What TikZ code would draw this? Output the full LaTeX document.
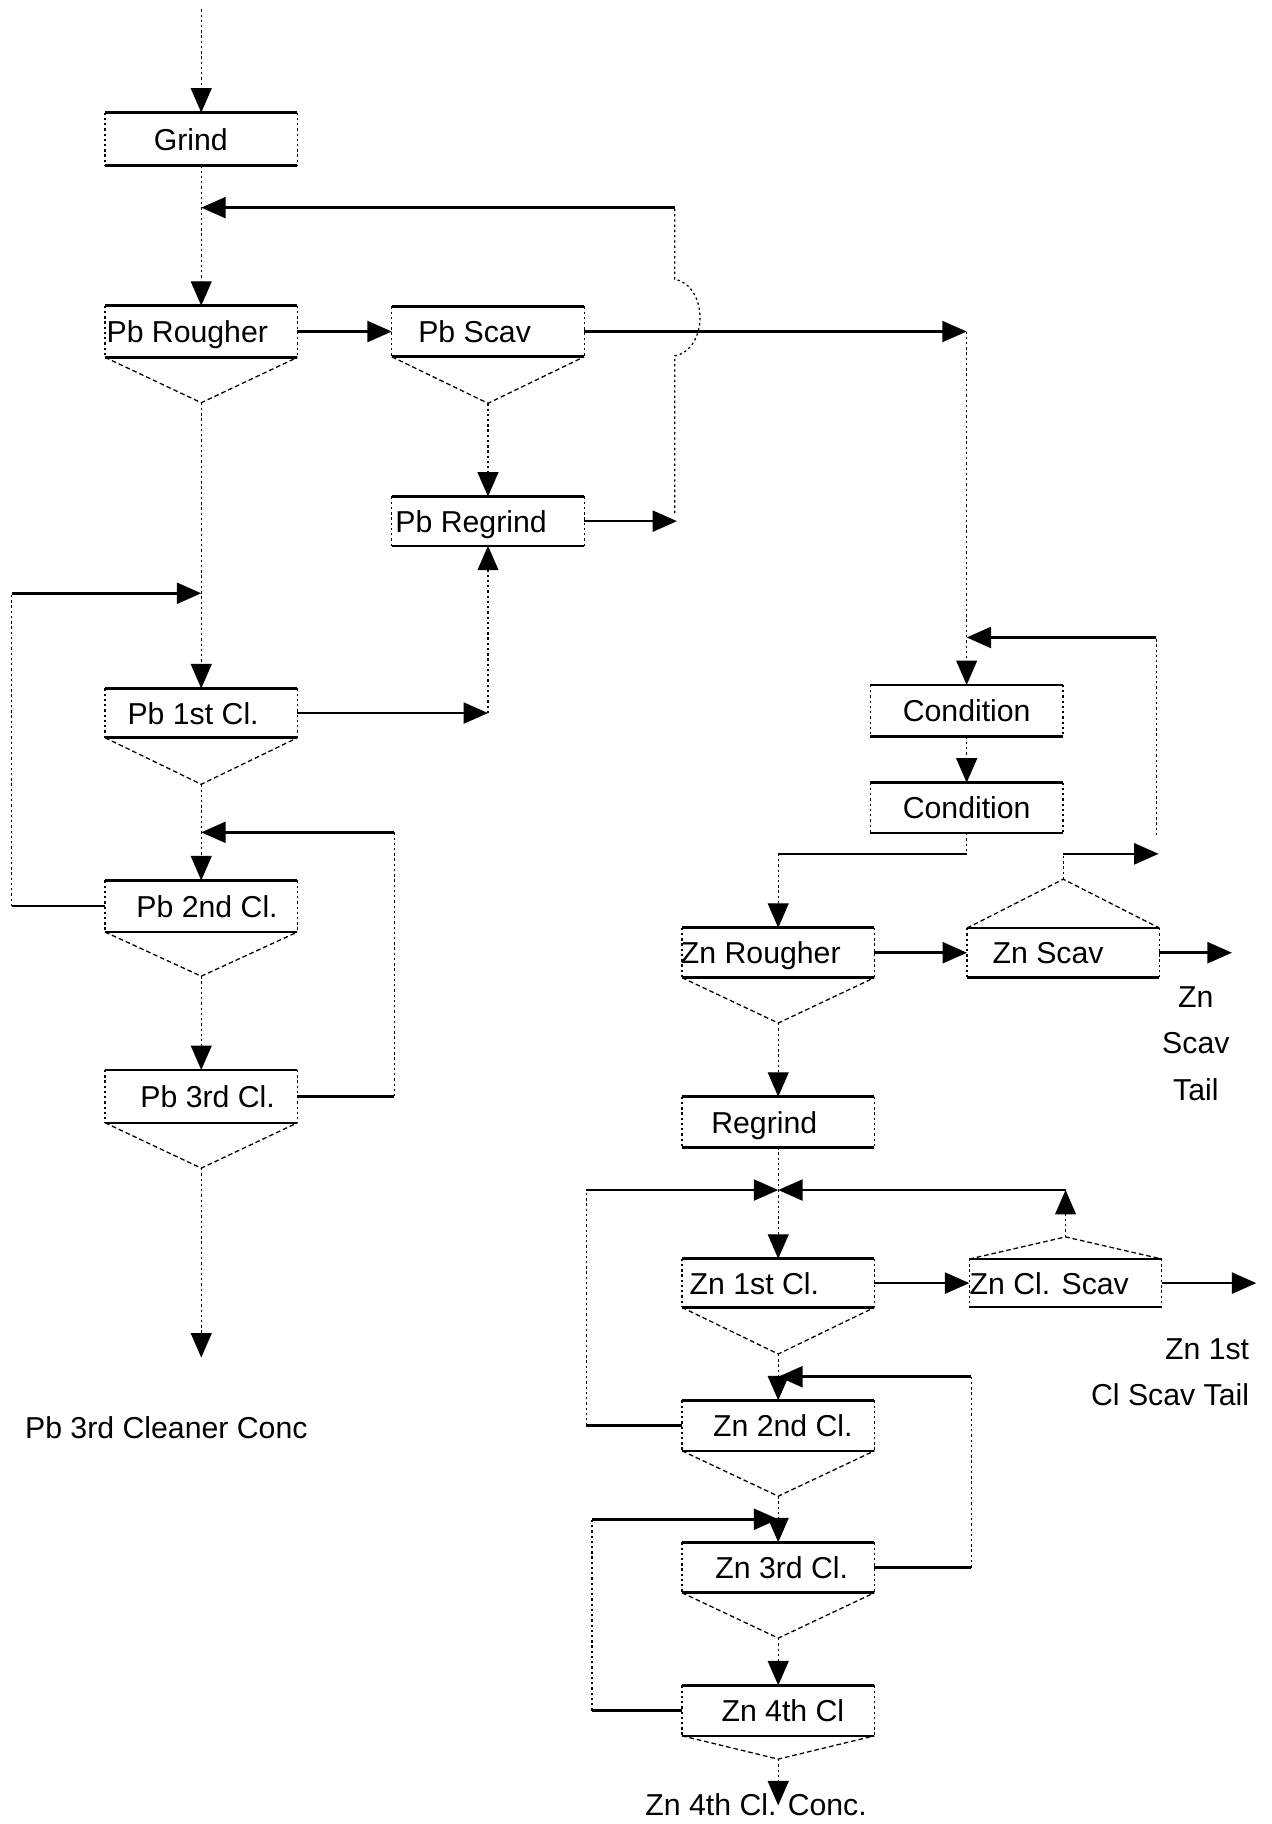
\documentclass[tikz,border=0pt]{standalone}
\usepackage{fontspec}
\setmainfont{Liberation Sans}
\usetikzlibrary{arrows.meta,calc}
\newcommand{\frameit}[1]{%
  \draw[hl] (#1.north west) -- (#1.north east) (#1.south west) -- (#1.south east);
  \draw[vl] (#1.north west) -- (#1.south west) (#1.north east) -- (#1.south east);}
\newcommand{\unitbox}[6]{% name, x, y, text shift, height, text
  \node[box, minimum height=#5pt] (#1) at (#2,#3) {};
  \node[boxtext, xshift=#4pt] (#1-t) at (#1.center) {#6};
  \frameit{#1}}
\newcommand{\hopperdown}[2]{% node, depth
  \draw[tri] (#1.south west) -- ($(#1.south)+(0,#2)$) coordinate (#1-a) -- (#1.south east);}
\newcommand{\hopperup}[2]{% node, height
  \draw[tri] (#1.north west) -- ($(#1.north)+(0,-#2)$) coordinate (#1-a) -- (#1.north east);}
\begin{document}
\begin{tikzpicture}[x=1pt,y=-1pt,
  box/.style={rectangle, draw=none, minimum width=165pt, inner sep=0pt},
  boxtext/.style={inner sep=0pt, text height=19pt, text depth=0pt, font=\fontsize{26}{30}\selectfont},
  lbl/.style={inner sep=0pt, text height=19pt, text depth=0pt, font=\fontsize{26}{30}\selectfont},
  hl/.style={line width=2.2pt},
  vl/.style={line width=1.1pt, dash pattern=on 2pt off 2.5pt},
  tri/.style={line width=1.1pt, dash pattern=on 4pt off 2.5pt},
  arr/.style={-{Triangle[length=21pt,width=18pt]}}
]
\useasboundingbox (0,0) rectangle (1093,1568);

% ---------- Pb circuit ----------
\coordinate (src) at (173,8);
\unitbox{grind}{173}{119.5}{-9}{45}{Grind}
\unitbox{pbr}{173}{285}{-12}{44}{Pb Rougher}
\hopperdown{pbr}{39}
\unitbox{pbs}{419.5}{285}{-11.5}{43}{Pb Scav}
\hopperdown{pbs}{40}
\unitbox{pbrg}{419.5}{448}{-14.5}{42}{Pb Regrind}
\unitbox{pb1}{173}{613}{-7}{42}{Pb 1st Cl.}
\hopperdown{pb1}{40}
\unitbox{pb2}{173}{779}{5}{44}{Pb 2nd Cl.}
\hopperdown{pb2}{38}
\unitbox{pb3}{173}{942.5}{5.5}{45}{Pb 3rd Cl.}
\hopperdown{pb3}{39}

\draw[vl,arr] (src) -- (grind.north);
\draw[vl,arr] (grind.south) -- (pbr.north);

\coordinate (rec) at (173,178.5);
\coordinate (rtop) at (580,178.5);
\coordinate (rbot) at (580,441);
\coordinate (rin) at (582,448);
\draw[vl] (rbot) -- (580,306) .. controls (609,300) and (609,246) .. (580,240) -- (rtop);
\draw[hl,arr] (rtop) -- (rec);
\draw[hl,arr] (pbrg.east) -- (rin);

\draw[hl,arr] (pbr.east) -- (pbs.west);
\coordinate (cin) at (831,285);
\draw[hl,arr] (pbs.east) -- (cin);
\draw[vl,arr] (pbs-a) -- (pbrg.north);
\draw[vl,arr] (pbr-a) -- (pb1.north);

\coordinate (j1) at (173,510);
\coordinate (pbl) at (10,779);
\coordinate (pbl2) at (10,510);
\draw[hl] (pb2.west) -- (pbl);
\draw[vl] (pbl) -- (pbl2);
\draw[hl,arr] (pbl2) -- (j1);

\coordinate (rgin) at (419.5,613);
\draw[hl,arr] (pb1.east) -- (rgin);
\draw[vl,arr] (rgin) -- (pbrg.south);

\draw[vl,arr] (pb1-a) -- (pb2.north);
\coordinate (j2) at (173,715.5);
\coordinate (pbr2) at (339,715.5);
\coordinate (pbr3) at (339,942.5);
\draw[hl] (pb3.east) -- (pbr3);
\draw[vl] (pbr3) -- (pbr2);
\draw[hl,arr] (pbr2) -- (j2);
\draw[vl,arr] (pb2-a) -- (pb3.north);

\coordinate (pbout) at (173,1167);
\draw[vl,arr] (pb3-a) -- (pbout);
\node[lbl] (pbc) at (143,1227) {Pb 3rd Cleaner Conc};

% ---------- Zn circuit ----------
\unitbox{c1}{831}{611}{0}{44}{Condition}
\unitbox{c2}{831}{694.5}{0}{43}{Condition}
\unitbox{znr}{669}{819}{-15}{42.5}{Zn Rougher}
\hopperdown{znr}{39}
\unitbox{zns}{914}{819}{-13}{42}{Zn Scav}
\hopperup{zns}{42}
\unitbox{rg}{669}{964.5}{-12}{43}{Regrind}
\unitbox{zn1}{669}{1103}{-20.5}{41.5}{Zn 1st Cl.}
\hopperdown{zn1}{40}
\unitbox{zncs}{916}{1103}{-14}{41}{Zn Cl. Scav}
\hopperup{zncs}{19}
\unitbox{zn2}{669}{1225.5}{4}{43}{Zn 2nd Cl.}
\hopperdown{zn2}{39}
\unitbox{zn3}{669}{1347.5}{3}{43}{Zn 3rd Cl.}
\hopperdown{zn3}{39}
\unitbox{zn4}{669}{1470.5}{4}{43}{Zn 4th Cl}
\hopperdown{zn4}{20}

\draw[vl,arr] (cin) -- (c1.north);
\coordinate (j3) at (831,548);
\coordinate (zsr) at (914,734);
\coordinate (zsr2) at (996,734);
\coordinate (zsr3) at (994,718);
\coordinate (zsr4) at (994,548);
\draw[vl] (zns-a) -- (zsr);
\draw[hl,arr] (zsr) -- (zsr2);
\draw[vl] (zsr3) -- (zsr4);
\draw[hl,arr] (zsr4) -- (j3);

\draw[vl,arr] (c1.south) -- (c2.north);
\coordinate (c2o) at (831,734);
\coordinate (znrin) at (669,734);
\draw[vl] (c2.south) -- (c2o);
\draw[hl] (c2o) -- (znrin);
\draw[vl,arr] (znrin) -- (znr.north);

\draw[hl,arr] (znr.east) -- (zns.west);
\coordinate (zst) at (1059,819);
\draw[hl,arr] (zns.east) -- (zst);
\node[lbl, align=center, font=\fontsize{26}{40}\selectfont, text height=, text depth=] (zstl) at (1028,897) {Zn\\Scav\\Tail};

\draw[vl,arr] (znr-a) -- (rg.north);
\coordinate (j4) at (669,1023);
\draw[vl] (rg.south) -- (j4);
\draw[vl,arr] (j4) -- (zn1.north);
\coordinate (l1a) at (504,1225.5);
\coordinate (l1b) at (504,1023);
\draw[hl] (zn2.west) -- (l1a);
\draw[vl] (l1a) -- (l1b);
\draw[hl,arr] (l1b) -- (j4);

\coordinate (csr) at (916,1023);
\draw[vl,arr] (zncs-a) -- (csr);
\draw[hl,arr] (csr) -- (j4);

\draw[hl,arr] (zn1.east) -- (zncs.west);
\coordinate (cst) at (1080,1103);
\draw[hl,arr] (zncs.east) -- (cst);
\node[lbl, align=right, anchor=east, font=\fontsize{26}{39}\selectfont, text height=, text depth=] (cstl) at (1074,1179.5) {Zn 1st\\Cl Scav Tail};

\coordinate (j5) at (669,1183.5);
\draw[vl,arr] (zn1-a) -- (zn2.north);
\coordinate (r2a) at (835,1347.5);
\coordinate (r2b) at (835,1183.5);
\draw[hl] (zn3.east) -- (r2a);
\draw[vl] (r2a) -- (r2b);
\draw[hl,arr] (r2b) -- (j5);

\coordinate (j6) at (669,1306);
\draw[vl,arr] (zn2-a) -- (zn3.north);
\coordinate (l2a) at (509,1470.5);
\coordinate (l2b) at (509,1306);
\draw[hl] (zn4.west) -- (l2a);
\draw[vl] (l2a) -- (l2b);
\draw[hl,arr] (l2b) -- (j6);

\draw[vl,arr] (zn3-a) -- (zn4.north);
\node[lbl] (znc) at (650,1551) {Zn 4th Cl. Conc.};
\coordinate (zout) at (669,1552);
\draw[vl,arr] (zn4-a) -- (zout);
\end{tikzpicture}
\end{document}
